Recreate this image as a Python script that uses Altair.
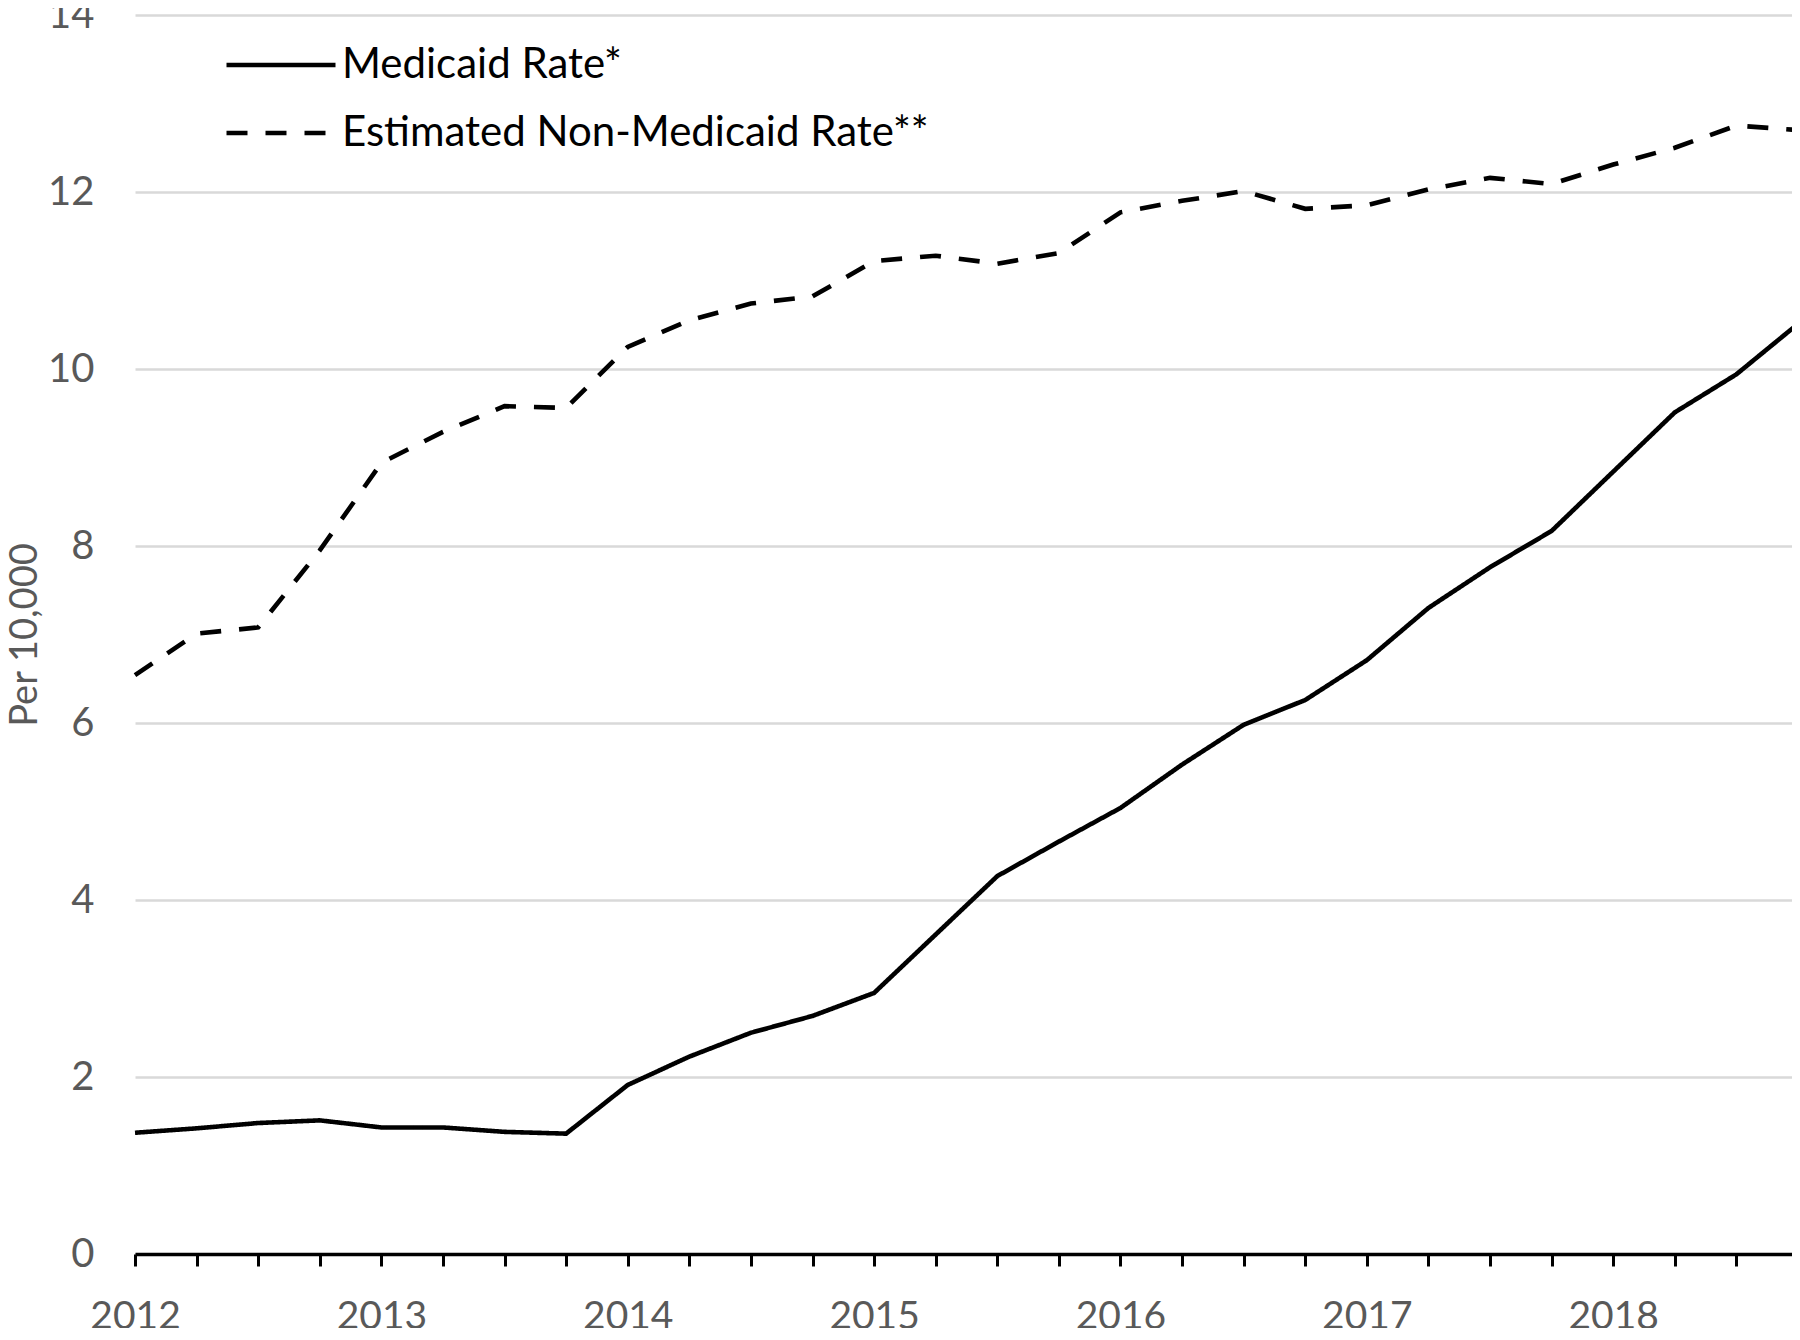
import altair as alt
import pandas as pd

years = [2012, 2013, 2014, 2015, 2016, 2017, 2018]
quarters = ["Q1", "Q2", "Q3", "Q4"]
period = [f"{y} {q}" for y in years for q in quarters]

series_names = ["Medicaid Rate*", "Estimated Non-Medicaid Rate**"]

medicaid = [1.37, 1.42, 1.48, 1.51, 1.43, 1.43, 1.38, 1.36,
            1.91, 2.23, 2.50, 2.69, 2.95, 3.61, 4.27, 4.66,
            5.04, 5.53, 5.98, 6.26, 6.71, 7.30, 7.76, 8.17,
            8.84, 9.51, 9.94, 10.51]
non_medicaid = [6.54, 7.01, 7.08, 7.95, 8.94, 9.29, 9.58, 9.56,
                10.25, 10.55, 10.74, 10.82, 11.22, 11.28, 11.19, 11.31,
                11.77, 11.90, 12.01, 11.81, 11.85, 12.03, 12.16, 12.09,
                12.31, 12.50, 12.75, 12.70]

y_ticks = [0, 2, 4, 6, 8, 10, 12, 14]

rows = []
for name, vals in zip(series_names, [medicaid, non_medicaid]):
    for p, v in zip(period, vals):
        rows.append({"period": p, "series": name, "value": v})
df = pd.DataFrame(rows)

FONT = "Lato"
GRAY = "#595959"

chart = alt.Chart(df).mark_line(color="black", strokeWidth=4.6, strokeCap="butt").encode(
    x=alt.X(
        "period:O",
        sort=period,
        scale=alt.Scale(type="point", padding=0),
        axis=alt.Axis(
            title=None,
            labelAngle=0,
            labelExpr="indexof(datum.label, 'Q1') >= 0 ? slice(datum.label, 0, 4) : ''",
            labelOverlap=False,
            labelFont=FONT,
            labelFontSize=39,
            labelColor=GRAY,
            labelPadding=31,
            ticks=True,
            tickSize=12,
            tickWidth=3,
            tickColor="black",
            domainColor="black",
            domainWidth=3.5,
            grid=False,
        ),
    ),
    y=alt.Y(
        "value:Q",
        scale=alt.Scale(domain=[0, 14], nice=False, zero=True),
        axis=alt.Axis(
            title="Per 10,000",
            values=y_ticks,
            titleFont=FONT,
            titleFontSize=38,
            titleFontWeight="normal",
            titleColor=GRAY,
            titlePadding=3,
            labelFont=FONT,
            labelFontSize=40,
            labelColor=GRAY,
            labelPadding=41,
            ticks=False,
            domain=False,
            grid=True,
            gridColor="#d9d9d9",
            gridWidth=2.5,
        ),
    ),
    strokeDash=alt.StrokeDash(
        "series:N",
        scale=alt.Scale(domain=series_names, range=[[1, 0], [21, 18]]),
        legend=alt.Legend(
            title=None,
            orient="none",
            legendX=89,
            legendY=16,
            direction="vertical",
            symbolType="stroke",
            symbolSize=11881,
            symbolStrokeWidth=4.6,
            symbolStrokeColor="black",
            labelFont=FONT,
            labelFontSize=42,
            labelColor="black",
            labelOffset=4,
            labelLimit=800,
            clipHeight=68,
            padding=0,
            rowPadding=0,
        ),
    ),
).properties(
    width=1663,
    height=1239,
    padding={"left": 127, "top": 7, "right": -6, "bottom": 74},
    autosize=alt.AutoSizeParams(type="none"),
    background="white",
).configure_view(stroke=None)

chart.save("out.html", embed_options={"renderer": "svg", "actions": False})
